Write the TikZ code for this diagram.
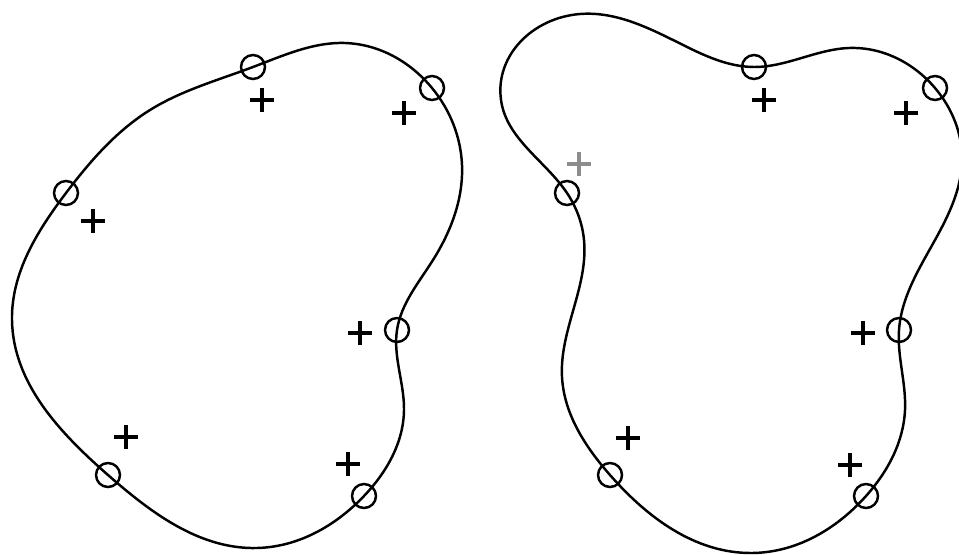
\documentclass[tikz,border=0pt]{standalone}
\usetikzlibrary{positioning,hobby}
\begin{document}
\begin{tikzpicture}[x=0.02cm, y=-0.02cm,
  curve/.style={line width=1.4pt, line join=round},
  ring/.style={circle, draw, line width=1.4pt, minimum size=0.48cm, inner sep=0pt},
  cross/.style={line width=1.9pt}]
\useasboundingbox (0,0) rectangle (959,554);
\clip (0,0) rectangle (959,554);
% left shape
\draw[curve] plot[closed hobby] coordinates {
  (66,193) (150,110) (253,67) (345,43) (432,88) (462,165) (433,260)
  (397,330) (404,410) (364,496) (257,548) (108,475) (12,320)};
\foreach \x/\y [count=\i] in {253/67, 432/88, 66/193, 397/330, 108/475, 364/496}
  \node[ring] (l\i) at (\x,\y) {};
\foreach \x/\y in {262/100, 404/113, 93/221, 360/333, 126/437, 348/464}
  \draw[cross] (\x,\y) +(-12,0) -- +(12,0) +(0,-12) -- +(0,12);
% right shape
\draw[curve] plot[closed hobby] coordinates {
  (567,193) (501,100) (580,14) (679,43) (754,67) (849,48) (935,88)
  (962,160) (935,240) (899,330) (905,410) (866,496) (752,553) (610,475)
  (562,377) (584,240)};
\foreach \x/\y [count=\i] in {754/67, 935/88, 567/193, 899/330, 610/475, 866/496}
  \node[ring] (r\i) at (\x,\y) {};
\foreach \x/\y in {764/100, 906/113, 863/333, 628/438, 850/465}
  \draw[cross] (\x,\y) +(-12,0) -- +(12,0) +(0,-12) -- +(0,12);
\draw[cross, black!45] (579,164) +(-12,0) -- +(12,0) +(0,-12) -- +(0,12);
\end{tikzpicture}
\end{document}
